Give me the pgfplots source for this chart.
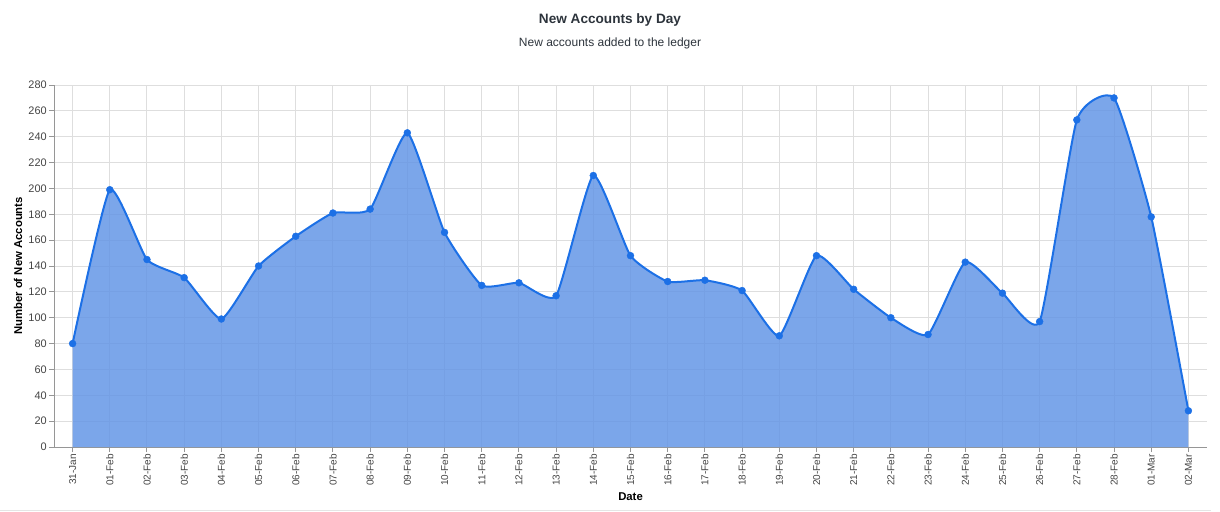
\documentclass[border=0pt]{standalone}
\usepackage{fontspec}
\setmainfont{Liberation Sans}
\usepackage{pgfplots}
\pgfplotsset{compat=1.18}
\definecolor{lineblue}{RGB}{28,112,230}
\definecolor{areablue}{RGB}{100,150,230}
\definecolor{gridgray}{RGB}{222,222,222}
\definecolor{axisgray}{RGB}{150,150,150}
\definecolor{textgray}{RGB}{68,68,68}
\definecolor{titlecol}{RGB}{45,52,60}

\begin{document}
\begin{tikzpicture}
\useasboundingbox (-40.5pt,-48pt) rectangle (874.5pt,335.25pt);
\begin{axis}[
  at={(0,0)}, anchor=south west,
  scale only axis, width=864.75pt, height=271.5pt,
  xmin=-0.5, xmax=30.5, ymin=0, ymax=280,
  xtick={0,...,30},
  xticklabels={31-Jan,01-Feb,02-Feb,03-Feb,04-Feb,05-Feb,06-Feb,07-Feb,
    08-Feb,09-Feb,10-Feb,11-Feb,12-Feb,13-Feb,14-Feb,15-Feb,16-Feb,17-Feb,
    18-Feb,19-Feb,20-Feb,21-Feb,22-Feb,23-Feb,24-Feb,25-Feb,26-Feb,27-Feb,
    28-Feb,01-Mar,02-Mar},
  ytick={0,20,...,280},
  grid=major, grid style={gridgray, line width=0.75pt},
  axis x line*=bottom, axis y line*=left,
  axis line style={axisgray, line width=0.75pt},
  tick align=outside, major tick length=3.75pt,
  tick style={axisgray, line width=0.75pt},
  xticklabel style={rotate=90, anchor=east, inner sep=1.5pt,
    font=\fontsize{7.5}{9}\selectfont, text=textgray},
  yticklabel style={inner sep=1.5pt, font=\fontsize{8.2}{9}\selectfont, text=textgray},
  /pgf/number format/assume math mode=true,
]
% area under the curve
\addplot[draw=none, fill=areablue, fill opacity=0.85, smooth, tension=0.3, forget plot]
  coordinates {
  (0,80)(1,199)(2,145)(3,131)(4,99)(5,140)(6,163)(7,181)(8,184)(9,243)
  (10,166)(11,125)(12,127)(13,117)(14,210)(15,148)(16,128)(17,129)(18,121)
  (19,86)(20,148)(21,122)(22,100)(23,87)(24,143)(25,119)(26,97)(27,253)
  (28,270)(29,178)(30,28)
} \closedcycle;
% line
\addplot[lineblue, line width=1.5pt, smooth, tension=0.3, forget plot]
  coordinates {
  (0,80)(1,199)(2,145)(3,131)(4,99)(5,140)(6,163)(7,181)(8,184)(9,243)
  (10,166)(11,125)(12,127)(13,117)(14,210)(15,148)(16,128)(17,129)(18,121)
  (19,86)(20,148)(21,122)(22,100)(23,87)(24,143)(25,119)(26,97)(27,253)
  (28,270)(29,178)(30,28)
};
% markers
\addplot[lineblue, only marks, mark=*, mark size=2.6pt,
  mark options={solid, fill=lineblue, draw=lineblue, line width=0.3pt}]
  coordinates {
  (0,80)(1,199)(2,145)(3,131)(4,99)(5,140)(6,163)(7,181)(8,184)(9,243)
  (10,166)(11,125)(12,127)(13,117)(14,210)(15,148)(16,128)(17,129)(18,121)
  (19,86)(20,148)(21,122)(22,100)(23,87)(24,143)(25,119)(26,97)(27,253)
  (28,270)(29,178)(30,28)
};
\end{axis}
% titles and axis labels
\node[font=\fontsize{10.2}{12}\selectfont\bfseries, text=titlecol] at (417pt,320.25pt) {New Accounts by Day};
\node[font=\fontsize{9}{11}\selectfont, text=titlecol] at (417pt,303pt) {New accounts added to the ledger};
\node[rotate=90, font=\fontsize{8.5}{10}\selectfont\bfseries] at (-27pt,135.75pt) {Number of New Accounts};
\node[font=\fontsize{8.5}{10}\selectfont\bfseries] at (432.4pt,-37.5pt) {Date};
\draw[gray!20, line width=0.75pt] (-40.5pt,-47.25pt) -- (868pt,-47.25pt);
\end{tikzpicture}
\end{document}
